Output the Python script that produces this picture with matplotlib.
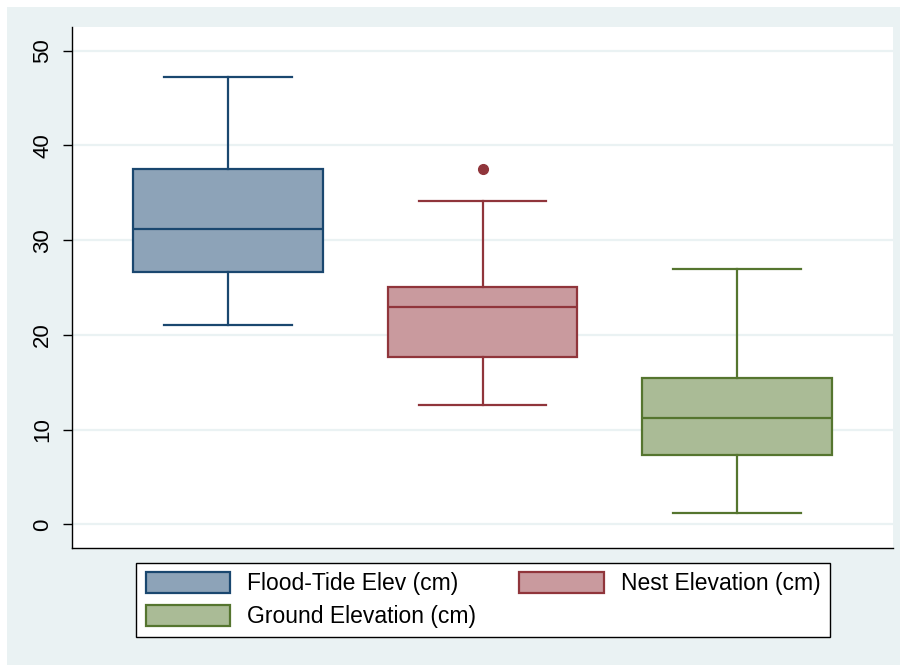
import matplotlib.pyplot as plt
from matplotlib.patches import Patch, Rectangle

labels = ['Flood-Tide Elev (cm)', 'Nest Elevation (cm)', 'Ground Elevation (cm)']
medians = [31.2, 22.9, 11.2]
q1 = [26.6, 17.65, 7.3]
q3 = [37.5, 25.05, 15.4]
whislo = [21.0, 12.6, 1.15]
whishi = [47.25, 34.1, 26.95]
outliers = [[], [37.5], []]
yticks = [0, 10, 20, 30, 40, 50]

edge_colors = ['#1A476F', '#90353B', '#55752F']
face_colors = ['#8DA3B8', '#C99A9E', '#AABB96']

plt.rcParams['font.family'] = ['Liberation Sans', 'DejaVu Sans']

fig = plt.figure(figsize=(9, 6.65), dpi=100, facecolor='white')
fig.patches.append(Rectangle((7 / 900, 0), 893 / 900, 658 / 665,
                             transform=fig.transFigure, facecolor='#EAF2F3',
                             edgecolor='none', zorder=-10))
ax = fig.add_axes([72 / 900, 1 - 548 / 665, 821 / 900, 521 / 665])
ax.set_facecolor('white')

stats = []
for i in range(3):
    stats.append(dict(med=medians[i], q1=q1[i], q3=q3[i], whislo=whislo[i],
                      whishi=whishi[i], fliers=outliers[i], label=labels[i]))

bp = ax.bxp(stats, positions=[1, 2, 3], widths=0.745, capwidths=0.5,
            patch_artist=True, showfliers=True, zorder=3)
for i in range(3):
    ec, fc = edge_colors[i], face_colors[i]
    bp['boxes'][i].set(facecolor=fc, edgecolor=ec, linewidth=1.6)
    bp['medians'][i].set(color=ec, linewidth=1.6)
    for j in (2 * i, 2 * i + 1):
        bp['whiskers'][j].set(color=ec, linewidth=1.6)
        bp['caps'][j].set(color=ec, linewidth=1.6)
    bp['fliers'][i].set(marker='o', markerfacecolor=ec, markeredgecolor=ec,
                        markersize=7)

ax.set_xlim(0.388, 3.612)
ax.set_ylim(-2.5, 52.5)
ax.set_yticks(yticks)
ax.set_yticklabels([str(t) for t in yticks], rotation=90, va='center', fontsize=16)
ax.set_xticks([])
ax.tick_params(axis='y', length=6.5, width=1, pad=7)
ax.grid(axis='y', color='#EAF2F3', linewidth=1.6, zorder=0)
ax.set_axisbelow(True)
for s in ('top', 'right'):
    ax.spines[s].set_visible(False)
for s in ('left', 'bottom'):
    ax.spines[s].set_linewidth(1)

# legend fills column by column, so order handles to read row-wise
order = [0, 2, 1]
handles = [Patch(facecolor=face_colors[i], edgecolor=edge_colors[i], linewidth=1.6,
                 label=labels[i]) for i in order]
leg = fig.legend(handles=handles, ncol=2, loc='center',
                 bbox_to_anchor=(483 / 900, 1 - 600 / 665), fontsize=16.5,
                 frameon=True, fancybox=False, framealpha=1, handlelength=3.67,
                 handleheight=1.05, handletextpad=0.75, columnspacing=1.9,
                 borderpad=0.4, labelspacing=0.42)
leg.get_frame().set_edgecolor('black')
leg.get_frame().set_linewidth(1)

fig.savefig('out.png', dpi=100, facecolor=fig.get_facecolor())
